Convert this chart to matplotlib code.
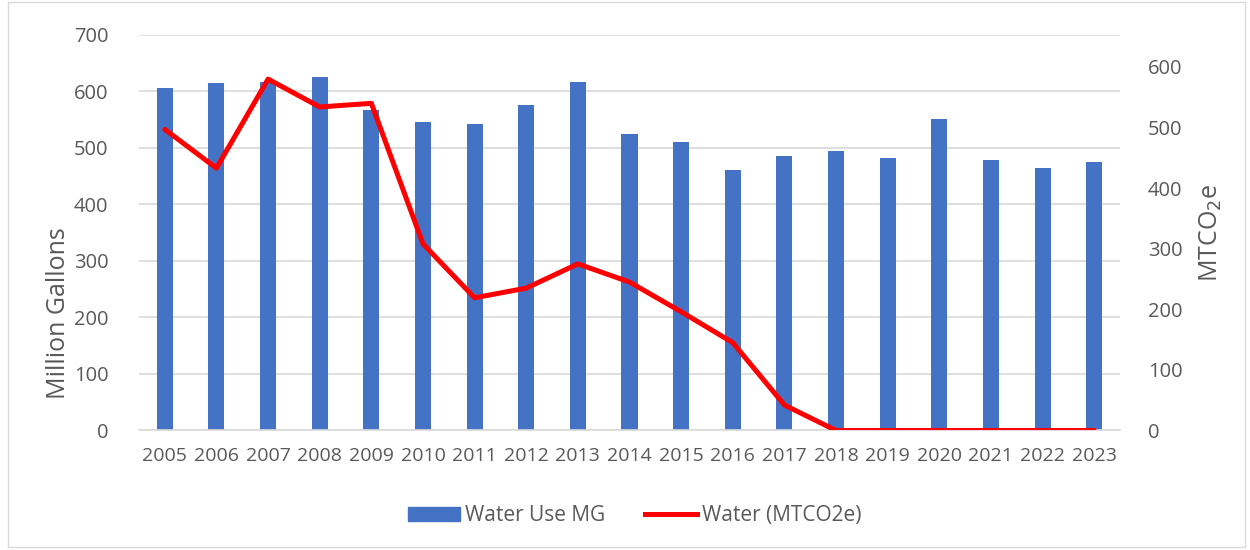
import matplotlib
matplotlib.use("Agg")
import matplotlib.pyplot as plt
from matplotlib.patches import Rectangle
from matplotlib.lines import Line2D
import numpy as np

years = [str(y) for y in range(2005, 2024)]
water_use_mg = [607, 615, 617, 626, 567, 546, 542, 576, 617, 524, 510, 461, 485, 495, 482, 551, 479, 465, 475]
water_mtco2e = [497, 433, 580, 534, 540, 308, 219, 235, 275, 245, 196, 145, 42, 0, 0, 0, 0, 0, 0]

plt.rcParams['font.family'] = ['Open Sans', 'DejaVu Sans']
txt = '#595959'

fig = plt.figure(figsize=(12.5, 5.5), dpi=100)
fig.patches.append(Rectangle((0.006, 0.006), 0.99, 0.99, transform=fig.transFigure,
                             fill=False, edgecolor='#d9d9d9', linewidth=1))
ax = fig.add_axes([0.1112, 0.2173, 0.7848, 0.7191])
x = np.arange(len(years))
ax.bar(x, water_use_mg, width=0.31, color='#4472C4', zorder=2)
ax.set_xlim(-0.5, len(years) - 0.5)
ax.set_ylim(0, 700)
ax.set_yticks(range(0, 701, 100))
ax.grid(axis='y', color='#d9d9d9', linewidth=1.2, zorder=0)
ax.set_axisbelow(True)
for s in ['top', 'right', 'left']:
    ax.spines[s].set_visible(False)
ax.spines['bottom'].set_color('#d9d9d9')
ax.spines['bottom'].set_linewidth(1.2)
ax.set_xticks(x)
ax.set_xticklabels(years, fontsize=14, color=txt)
ax.tick_params(axis='both', length=0, colors=txt, labelsize=14.5)
ax.tick_params(axis='y', pad=22)
ax.tick_params(axis='x', pad=12, labelsize=14)
ax.set_ylabel('Million Gallons', fontsize=18, color=txt)
ax.yaxis.set_label_coords(-0.069, 0.297)

ax2 = ax.twinx()
ax2.plot(x, water_mtco2e, color='#FF0000', linewidth=3.6, solid_capstyle='round', zorder=3)
ax2.set_ylim(0, 600 * (430.5 - 35) / (430.5 - 67))
ax2.set_yticks(range(0, 601, 100))
for s in ax2.spines.values():
    s.set_visible(False)
ax2.tick_params(axis='y', length=0, colors=txt, labelsize=14.5, pad=20)
ax2.set_ylabel('MTCO$_2$e', fontsize=18, color=txt, labelpad=11)

handles = [Rectangle((0, 0), 1, 1, color='#4472C4'),
           Line2D([0], [0], color='#FF0000', linewidth=3.6)]
fig.legend(handles, ['Water Use MG', 'Water (MTCO2e)'], loc='center',
           bbox_to_anchor=(0.508, 0.062), ncol=2, frameon=False, fontsize=15,
           labelcolor=txt, handlelength=2.5, columnspacing=1.9, handletextpad=0.25)

fig.savefig('out.png', dpi=100)
